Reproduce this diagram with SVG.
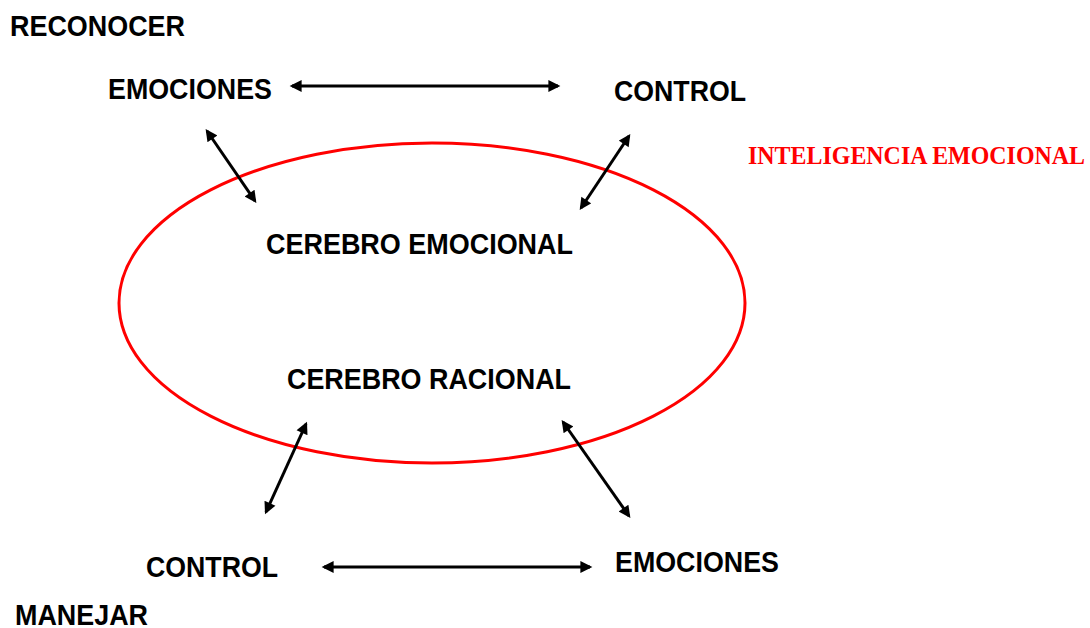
<svg xmlns="http://www.w3.org/2000/svg" width="1090" height="628" viewBox="0 0 1090 628">
<style>
.lbl{font-family:"Liberation Sans",Arial,sans-serif;font-weight:bold;font-size:29px;fill:#000}
.title{font-family:"Liberation Serif","Times New Roman",serif;font-weight:bold;font-size:26px;fill:#ff0000}
.con{stroke:#000;stroke-width:3;fill:none;marker-start:url(#ah);marker-end:url(#ah)}
</style>
<defs>
<marker id="ah" viewBox="0 0 10 10" refX="8" refY="5" markerWidth="4.5" markerHeight="4" orient="auto-start-reverse" markerUnits="strokeWidth">
<path d="M0,0 L10,5 L0,10 Z" fill="#000"/>
</marker>
</defs>
<rect width="1090" height="628" fill="#fff"/>
<g id="ellipse"><ellipse cx="432" cy="303" rx="313" ry="160" fill="none" stroke="#ff0000" stroke-width="3"/></g>
<g id="connectors">
<line class="con" x1="292" y1="86" x2="558" y2="86"/>
<line class="con" x1="324" y1="567" x2="590" y2="567"/>
<line class="con" x1="207" y1="131" x2="255" y2="201"/>
<line class="con" x1="629" y1="136" x2="581" y2="208"/>
<line class="con" x1="306" y1="424" x2="266" y2="512"/>
<line class="con" x1="563" y1="422" x2="629" y2="516"/>
</g>
<g id="reconocer"><text class="lbl" x="10" y="36" textLength="175" lengthAdjust="spacingAndGlyphs">RECONOCER</text></g>
<g id="emociones-top"><text class="lbl" x="108" y="99" textLength="164" lengthAdjust="spacingAndGlyphs">EMOCIONES</text></g>
<g id="control-top"><text class="lbl" x="614" y="101" textLength="132" lengthAdjust="spacingAndGlyphs">CONTROL</text></g>
<g id="inteligencia"><text class="title" x="748" y="164" textLength="337" lengthAdjust="spacingAndGlyphs">INTELIGENCIA EMOCIONAL</text></g>
<g id="cerebro-emocional"><text class="lbl" x="266" y="254" textLength="307" lengthAdjust="spacingAndGlyphs">CEREBRO EMOCIONAL</text></g>
<g id="cerebro-racional"><text class="lbl" x="287" y="389" textLength="284" lengthAdjust="spacingAndGlyphs">CEREBRO RACIONAL</text></g>
<g id="control-bottom"><text class="lbl" x="146" y="577" textLength="132" lengthAdjust="spacingAndGlyphs">CONTROL</text></g>
<g id="emociones-bottom"><text class="lbl" x="615" y="572" textLength="164" lengthAdjust="spacingAndGlyphs">EMOCIONES</text></g>
<g id="manejar"><text class="lbl" x="15" y="625" textLength="133" lengthAdjust="spacingAndGlyphs">MANEJAR</text></g>
</svg>
